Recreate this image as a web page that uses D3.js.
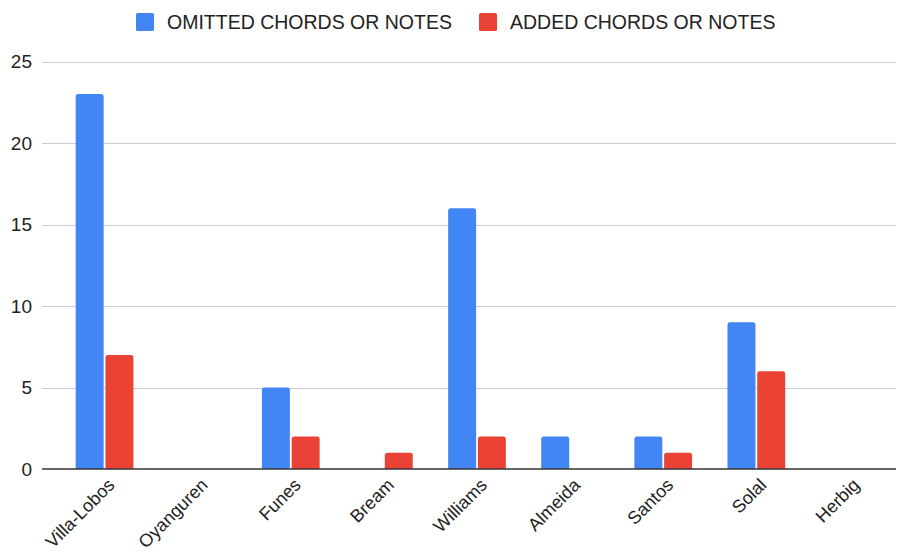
<!DOCTYPE html>
<html>
<head>
<meta charset="utf-8">
<script src="https://cdn.jsdelivr.net/npm/d3@7"></script>
<style>
  body { margin: 0; background: #fff; }
  text { font-family: Arial, "Liberation Sans", sans-serif; }
</style>
</head>
<body>
<svg id="chart" width="901" height="555"></svg>
<script>
var performers = ['Villa-Lobos', 'Oyanguren', 'Funes', 'Bream', 'Williams', 'Almeida', 'Santos', 'Solal', 'Herbig'];
var omitted = [23, 0, 5, 0, 16, 2, 2, 9, 0];
var added = [7, 0, 2, 1, 2, 0, 1, 6, 0];
var seriesNames = ['OMITTED CHORDS OR NOTES', 'ADDED CHORDS OR NOTES'];
var yTicks = [0, 5, 10, 15, 20, 25];

var svg = d3.select('#chart'),
    width = +svg.attr('width'),
    height = +svg.attr('height');

var color = d3.scaleOrdinal().domain(seriesNames).range(['#4285f4', '#ea4335']);

var x = d3.scaleBand().domain(performers).range([58, 896]).paddingInner(0.38).paddingOuter(0.19);
var xs = d3.scaleBand().domain(seriesNames).range([0, x.bandwidth()]).paddingInner(0.06);
var y = d3.scaleLinear().domain([0, 25]).range([469, 61.5]);

// gridlines
svg.append('g')
    .selectAll('line')
    .data(yTicks.filter(d => d > 0))
    .enter()
    .append('line')
    .attr('x1', 42)
    .attr('x2', 896)
    .attr('y1', d => Math.round(y(d)) + 0.5)
    .attr('y2', d => Math.round(y(d)) + 0.5)
    .attr('stroke', '#cccccc')
    .attr('stroke-width', 1);

// y labels
svg.append('g')
    .selectAll('text')
    .data(yTicks)
    .enter()
    .append('text')
    .attr('x', 32)
    .attr('y', d => y(d))
    .attr('dy', '0.35em')
    .attr('text-anchor', 'end')
    .style('font-size', '19px')
    .style('fill', '#222')
    .text(d => d);

// bars with rounded tops
function barPath(x0, w, yTop, yBot) {
    var r = Math.min(2.5, (yBot - yTop) / 2);
    return 'M' + x0 + ',' + yBot +
        'V' + (yTop + r) +
        'Q' + x0 + ',' + yTop + ' ' + (x0 + r) + ',' + yTop +
        'H' + (x0 + w - r) +
        'Q' + (x0 + w) + ',' + yTop + ' ' + (x0 + w) + ',' + (yTop + r) +
        'V' + yBot + 'Z';
}

var rows = performers.map((p, i) => ({ name: p, values: [omitted[i], added[i]] }));

var groups = svg.append('g')
    .selectAll('g')
    .data(rows)
    .enter()
    .append('g')
    .attr('transform', d => 'translate(' + x(d.name) + ',0)');

groups.selectAll('path')
    .data(d => d.values.map((v, k) => ({ key: seriesNames[k], value: v })).filter(d => d.value > 0))
    .enter()
    .append('path')
    .attr('fill', d => color(d.key))
    .attr('d', d => barPath(xs(d.key), xs.bandwidth(), y(d.value), y(0)));

// x axis line
svg.append('line')
    .attr('x1', 42)
    .attr('x2', 896)
    .attr('y1', y(0))
    .attr('y2', y(0))
    .attr('stroke', '#333')
    .attr('stroke-width', 1.5);

// x labels
svg.append('g')
    .selectAll('text')
    .data(performers)
    .enter()
    .append('text')
    .attr('transform', d => 'translate(' + (x(d) + x.bandwidth() / 2 + 2) + ',477) rotate(-45)')
    .attr('text-anchor', 'end')
    .attr('dy', '0.72em')
    .style('font-size', '18px')
    .style('fill', '#222')
    .text(d => d);

// legend
var legendX = [136, 479];
var legend = svg.append('g')
    .selectAll('g')
    .data(seriesNames)
    .enter()
    .append('g')
    .attr('transform', (d, i) => 'translate(' + legendX[i] + ',13)');

legend.append('rect')
    .attr('width', 18)
    .attr('height', 18)
    .attr('rx', 1.5)
    .attr('fill', d => color(d));

legend.append('text')
    .attr('x', 31)
    .attr('y', 9)
    .attr('dy', '0.35em')
    .style('font-size', '19.5px')
    .style('fill', '#222')
    .text(d => d);
</script>
</body>
</html>
